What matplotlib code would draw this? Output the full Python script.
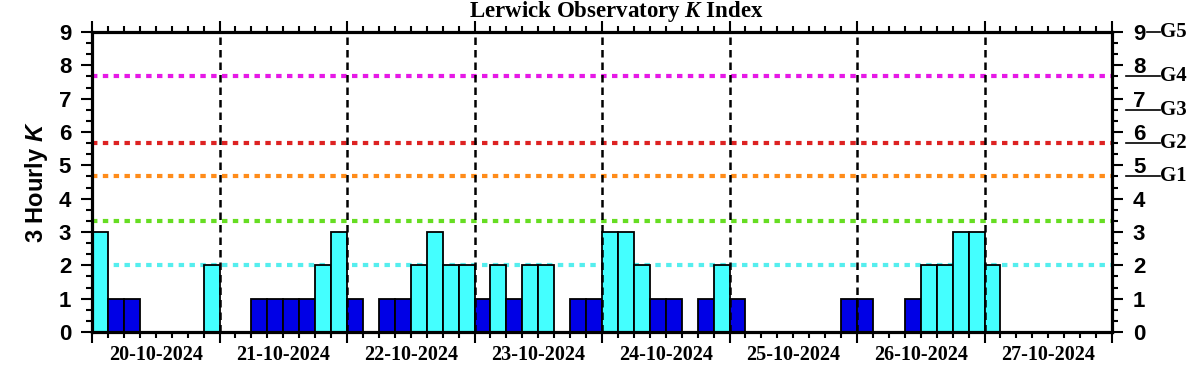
import numpy as np
import matplotlib
matplotlib.use("Agg")
import matplotlib.pyplot as plt
import matplotlib.transforms as mtransforms
from matplotlib.ticker import MultipleLocator

plt.rcParams["mathtext.fontset"] = "custom"
plt.rcParams["mathtext.it"] = "Liberation Serif:italic:bold"
plt.rcParams["mathtext.bfit"] = "Liberation Sans:italic:bold"

# 3-hourly K values, 8 per day
days = ["20-10-2024", "21-10-2024", "22-10-2024", "23-10-2024",
        "24-10-2024", "25-10-2024", "26-10-2024", "27-10-2024"]
k_values = [
    3, 1, 1, 0, 0, 0, 0, 2,
    0, 0, 1, 1, 1, 1, 2, 3,
    1, 0, 1, 1, 2, 3, 2, 2,
    1, 2, 1, 2, 2, 0, 1, 1,
    3, 3, 2, 1, 1, 0, 1, 2,
    1, 0, 0, 0, 0, 0, 0, 1,
    1, 0, 0, 1, 2, 2, 3, 3,
    2,
]
# storm threshold levels (dotted lines)
levels = [2.0, 3.33, 4.67, 5.67, 7.67]
level_colors = ["#55eeee", "#66dd22", "#ff8c1a", "#dd2222", "#e619e6"]
g_levels = [4.67, 5.67, 6.67, 7.67, 9.0]
g_labels = ["G1", "G2", "G3", "G4", "G5"]

fig = plt.figure(figsize=(12.02, 3.75), dpi=100)
ax = fig.add_axes([92 / 1202, 43 / 375, 1020 / 1202, 300 / 375])

hours = np.arange(len(k_values)) * 3
kv = np.array(k_values, dtype=float)
cols = ["#0000e6" if k <= 1 else "#44ffff" for k in kv]
mask = kv > 0
ax.bar(hours[mask], kv[mask], width=3, align="edge",
       color=np.array(cols)[mask], edgecolor="black", linewidth=1.3, zorder=3)

for lv, c in zip(levels, level_colors):
    ax.axhline(lv, color=c, linewidth=3, linestyle=(0, (1.3, 1.3)), zorder=2)

for d in range(1, len(days)):
    ax.axvline(d * 24, color="black", linewidth=1.8,
               linestyle=(0, (3, 2)), zorder=4)

ax.set_xlim(0, 24 * len(days))
ax.set_ylim(0, 9)

ax.xaxis.set_major_locator(MultipleLocator(24))
ax.xaxis.set_minor_locator(MultipleLocator(3))
ax.yaxis.set_major_locator(MultipleLocator(1))
ax.yaxis.set_minor_locator(MultipleLocator(1 / 3))
ax.set_xticklabels([])

ax.tick_params(axis="x", which="both", direction="out", top=True, bottom=True,
               width=1.5, labelbottom=False)
ax.tick_params(axis="x", which="major", length=8)
ax.tick_params(axis="x", which="minor", length=4)
ax.tick_params(axis="y", which="both", direction="out", left=True, right=True,
               labelleft=True, labelright=True, width=1.5)
ax.tick_params(axis="y", which="major", length=8, pad=7, labelsize=16)
ax.tick_params(axis="y", which="minor", length=4.5)
for lab in ax.get_yticklabels():
    lab.set_fontweight("bold")
    lab.set_family("Liberation Sans")

for sp in ax.spines.values():
    sp.set_linewidth(2.3)
    sp.set_zorder(5)

trans_x = mtransforms.blended_transform_factory(ax.transData, ax.transAxes)
for i, d in enumerate(days):
    ax.text(i * 24 + 12, -0.077, d, transform=trans_x, ha="center", va="center",
            fontsize=14.5, fontweight="bold", family="Liberation Serif")

trans_y = mtransforms.blended_transform_factory(ax.transAxes, ax.transData)
for lv, g in zip(g_levels, g_labels):
    x0 = 1.034 if g == "G5" else 1.0137
    ax.plot([x0, 1.047], [lv, lv], color="black", linewidth=1.2,
            transform=trans_y, clip_on=False)
    ax.text(1.047, lv, g, transform=trans_y, ha="left", va="center",
            fontsize=15, fontweight="bold", family="Liberation Serif")

fig.text(616 / 1202, 1 - 17 / 375, r"Lerwick Observatory $\mathit{K}$ Index",
         ha="center", va="baseline", fontsize=16.5, fontweight="bold",
         family="Liberation Serif")
ax.set_ylabel(r"3 Hourly $\mathbfit{K}$", fontsize=17, fontweight="bold",
              family="Liberation Sans", labelpad=6)

fig.savefig("out.png", dpi=100)
